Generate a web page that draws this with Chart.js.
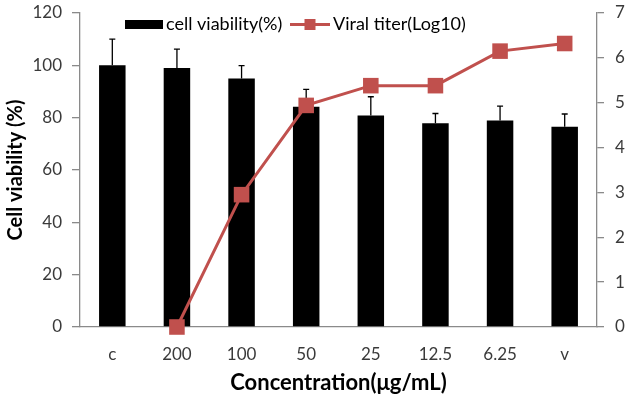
<!DOCTYPE html>
<html>
<head>
<meta charset="utf-8">
<script src="https://cdn.jsdelivr.net/npm/chart.js@4"></script>
<style>
  html, body { margin: 0; padding: 0; background: #fff; }
  #wrap { width: 630px; height: 401px; }
</style>
</head>
<body>
<div id="wrap"><canvas id="chart" width="630" height="401"></canvas></div>
<script>
  const categories = ['c', '200', '100', '50', '25', '12.5', '6.25', 'v'];
  const viability = [100, 99, 95, 84.2, 80.8, 77.9, 78.9, 76.5];
  const viabilityErr = [110, 106.2, 99.9, 90.8, 88, 81.6, 84.4, 81.4];
  const viralTiter = [null, 0, 2.95, 4.94, 5.38, 5.38, 6.15, 6.32];
  const leftTicks = [0, 20, 40, 60, 80, 100, 120];
  const rightTicks = [0, 1, 2, 3, 4, 5, 6, 7];

  const FONT = 'Lato, "Open Sans", sans-serif';
  const AXIS = '#8a8a8a';
  const TXT = '#3a3a3a';
  const RED = '#C0504D';

  // upper error bars drawn right after the bar dataset
  const errorBars = {
    id: 'errorBars',
    afterDatasetDraw(chart, args) {
      if (args.index !== 0) return;
      const { ctx } = chart;
      const y = chart.scales.y;
      const meta = chart.getDatasetMeta(0);
      ctx.save();
      ctx.strokeStyle = '#000';
      ctx.lineWidth = 1.3;
      meta.data.forEach((bar, i) => {
        const top = y.getPixelForValue(viabilityErr[i]);
        ctx.beginPath();
        ctx.moveTo(bar.x, bar.y);
        ctx.lineTo(bar.x, top);
        ctx.moveTo(bar.x - 3, top);
        ctx.lineTo(bar.x + 3, top);
        ctx.stroke();
      });
      ctx.restore();
    }
  };

  // legend inside the plot, like the original figure
  const topLegend = {
    id: 'topLegend',
    afterDraw(chart) {
      const { ctx } = chart;
      const ds = chart.data.datasets;
      ctx.save();
      ctx.font = '18px ' + FONT;
      ctx.fillStyle = '#000';
      ctx.textBaseline = 'middle';
      ctx.fillRect(125, 20, 38, 9);
      ctx.fillText(ds[0].label, 166, 24.5);
      ctx.strokeStyle = RED;
      ctx.lineWidth = 3;
      ctx.beginPath();
      ctx.moveTo(290, 24.5);
      ctx.lineTo(330, 24.5);
      ctx.stroke();
      ctx.fillStyle = RED;
      ctx.fillRect(304.5, 19, 11, 11);
      ctx.fillStyle = '#000';
      ctx.fillText(ds[1].label, 333, 24.5);
      ctx.restore();
    }
  };

  // fixed axis boxes so the plot area sits where the original's does
  function fixWidth(w) {
    return axis => {
      axis.width = w;
      axis.paddingTop = 0;
      axis.paddingBottom = 0;
    };
  }

  new Chart(document.getElementById('chart'), {
    data: {
      labels: categories,
      datasets: [
        {
          type: 'bar',
          label: 'cell viability(%)',
          data: viability,
          backgroundColor: '#000',
          barPercentage: 0.41,
          categoryPercentage: 1,
          yAxisID: 'y',
          order: 2
        },
        {
          type: 'line',
          label: 'Viral titer(Log10)',
          data: viralTiter,
          borderColor: RED,
          backgroundColor: RED,
          borderWidth: 3,
          pointStyle: 'rect',
          pointRadius: 11,
          pointBorderWidth: 0,
          pointBackgroundColor: RED,
          yAxisID: 'y2',
          clip: false,
          order: 1
        }
      ]
    },
    options: {
      responsive: false,
      animation: false,
      events: [],
      layout: { padding: { top: 13, right: 0, bottom: 0, left: 0 } },
      plugins: { legend: { display: false }, tooltip: { enabled: false } },
      scales: {
        x: {
          grid: { display: false },
          border: { display: true, color: AXIS, width: 1.3 },
          ticks: { color: TXT, font: { family: FONT, size: 17 }, padding: 9 },
          title: {
            display: true,
            text: 'Concentration(μg/mL)',
            color: '#000',
            font: { family: FONT, size: 22, weight: 'bold' },
            padding: { top: 0, bottom: 5 }
          },
          afterFit(axis) {
            axis.height = 74;
            axis.paddingLeft = 0;
            axis.paddingRight = 0;
          }
        },
        y: {
          position: 'left',
          min: 0,
          max: 120,
          afterBuildTicks(axis) { axis.ticks = leftTicks.map(v => ({ value: v })); },
          grid: { drawOnChartArea: false, drawTicks: true, tickLength: 8, color: AXIS, lineWidth: 1.3 },
          border: { display: true, color: AXIS, width: 1.3 },
          ticks: { color: TXT, font: { family: FONT, size: 17 }, padding: 10 },
          title: {
            display: true,
            text: 'Cell viability (%)',
            color: '#000',
            font: { family: FONT, size: 20, weight: 'bold' },
            padding: { top: 4, bottom: 0 }
          },
          afterFit: fixWidth(80)
        },
        y2: {
          position: 'right',
          min: 0,
          max: 7,
          afterBuildTicks(axis) { axis.ticks = rightTicks.map(v => ({ value: v })); },
          grid: { drawOnChartArea: false, drawTicks: true, tickLength: 7, color: AXIS, lineWidth: 1.3 },
          border: { display: true, color: AXIS, width: 1.3 },
          ticks: { color: TXT, font: { family: FONT, size: 17 }, padding: 11 },
          afterFit: fixWidth(33)
        }
      }
    },
    plugins: [errorBars, topLegend]
  });
</script>
</body>
</html>
